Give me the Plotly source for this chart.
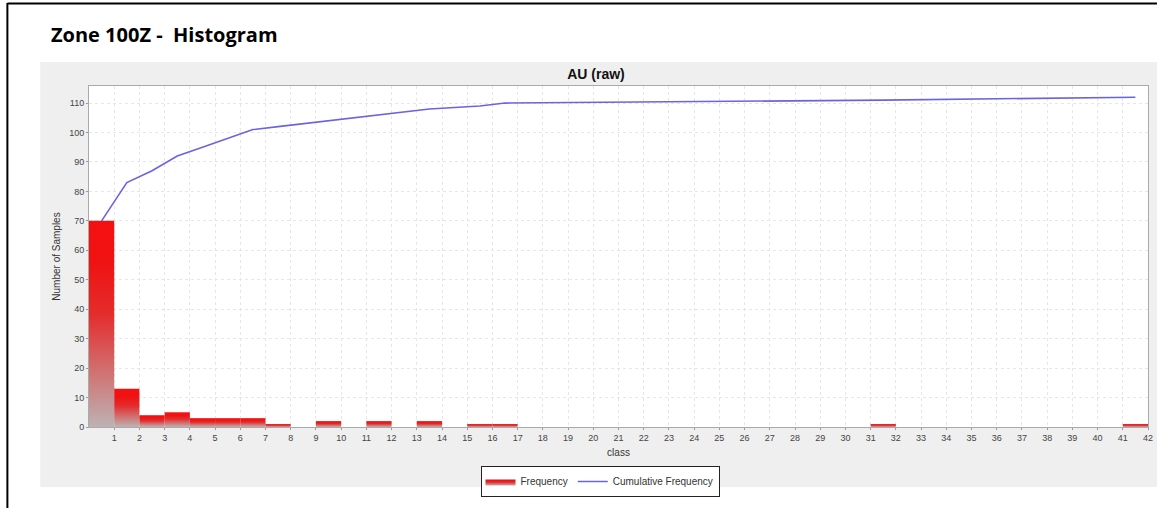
import plotly.graph_objects as go

# ---- data ----
class_edges = list(range(0, 43))          # class boundaries 0..42
frequency = [70, 13, 4, 5, 3, 3, 3, 1, 0, 2, 0, 2, 0, 2, 0, 1, 1,
             0, 0, 0, 0, 0, 0, 0, 0, 0, 0, 0, 0, 0, 0, 1,
             0, 0, 0, 0, 0, 0, 0, 0, 0, 1]
tick_labels = [str(i) for i in range(1, 43)]

# cumulative frequency at class centres (only where a class has samples)
cum_x, cum_y = [], []
s = 0
for i, f in enumerate(frequency):
    s += f
    if f > 0:
        cum_x.append((class_edges[i] + class_edges[i + 1]) / 2)
        cum_y.append(s)

W, H = 1157, 508
L, R, T, B = 89, 1153, 86, 427   # plot area in pixels
PW, PH = R - L, B - T

def px(x):
    return (x - L) / PW

def py(y):
    return (B - y) / PH

fig = go.Figure()

first = True
for i, f in enumerate(frequency):
    if f <= 0:
        continue
    x0, x1 = class_edges[i], class_edges[i + 1]
    fig.add_trace(go.Scatter(
        x=[x0, x0, x1, x1, x0], y=[0, f, f, 0, 0],
        mode="lines", fill="toself", line=dict(width=0, color="#ee1111"),
        fillgradient=dict(type="vertical",
                          colorscale=[[0, "#bdb3b3"], [0.55, "#e42c2c"], [0.8, "#f01212"], [1, "#f51010"]]),
        name="Frequency", legendgroup="freq", showlegend=first,
        hoverinfo="skip"))
    first = False

fig.add_trace(go.Scatter(
    x=cum_x, y=cum_y, mode="lines", name="Cumulative Frequency",
    line=dict(color="#6a64e0", width=1.6)))

white = "white"
shapes = [
    # white surround outside the grey chart panel
    dict(type="rect", xref="paper", yref="paper", layer="above", line_width=0, fillcolor=white,
         x0=px(-5), x1=px(W + 5), y0=py(62), y1=py(-5)),
    dict(type="rect", xref="paper", yref="paper", layer="above", line_width=0, fillcolor=white,
         x0=px(-5), x1=px(40), y0=py(H + 5), y1=py(62)),
    dict(type="rect", xref="paper", yref="paper", layer="above", line_width=0, fillcolor=white,
         x0=px(-5), x1=px(W + 5), y0=py(H + 5), y1=py(487)),
    # frame lines
    dict(type="line", xref="paper", yref="paper", layer="above",
         line=dict(color="black", width=2),
         x0=px(7), x1=px(W + 5), y0=py(3.5), y1=py(3.5)),
    dict(type="line", xref="paper", yref="paper", layer="above",
         line=dict(color="black", width=2),
         x0=px(7), x1=px(7), y0=py(3), y1=py(H + 5)),
]

fig.update_layout(
    width=W, height=H,
    margin=dict(l=L, r=W - R, t=T, b=H - B),
    shapes=shapes,
    paper_bgcolor="#efefef", plot_bgcolor="white",
    font=dict(family="Liberation Sans, Arial, sans-serif", size=9, color="#444444"),
    title=dict(text="<b>AU (raw)</b>", x=596 / W, xanchor="center", y=1 - 74 / H, yanchor="middle",
               font=dict(size=14, color="#111111", family="Liberation Sans, Arial, sans-serif")),
    showlegend=True,
    legend=dict(orientation="h", xref="container", yref="container",
                x=600 / W, xanchor="center", y=1 - 466 / H, yanchor="top",
                bgcolor="white", bordercolor="#222222", borderwidth=1,
                font=dict(size=10, color="#333333"), itemwidth=30,
                tracegroupgap=0),
    annotations=[
        dict(text="<b>Zone 100Z -  Histogram</b>", xref="paper", yref="paper",
             x=px(49), y=py(35),
             xanchor="left", yanchor="middle", showarrow=False,
             font=dict(size=20, color="black", family="Open Sans, sans-serif")),
    ],
)

fig.update_xaxes(
    range=[0, 42], tickvals=list(range(1, 43)), ticktext=tick_labels,
    ticklabeloverflow="allow",
    showgrid=True, gridcolor="#e6e6e6", griddash="dot", gridwidth=1,
    ticks="outside", ticklen=2, tickcolor="#999999",
    showline=True, linecolor="#aaaaaa", linewidth=1, mirror=True,
    zeroline=False,
    title=dict(text="class", font=dict(size=10, color="#333333"), standoff=7),
    tickfont=dict(size=9, color="#444444"),
)
fig.update_yaxes(
    range=[0, 115.8], tickvals=list(range(0, 111, 10)),
    showgrid=True, gridcolor="#e6e6e6", griddash="dot", gridwidth=1,
    ticks="outside", ticklen=2, tickcolor="#999999",
    showline=True, linecolor="#aaaaaa", linewidth=1, mirror=True,
    zeroline=False,
    title=dict(text="Number of Samples", font=dict(size=10, color="#333333"), standoff=6),
    tickfont=dict(size=9, color="#444444"),
)

fig.write_html("out.html", config={"displayModeBar": False},
               post_script="document.body.style.margin='0';document.documentElement.style.overflow='hidden';")
